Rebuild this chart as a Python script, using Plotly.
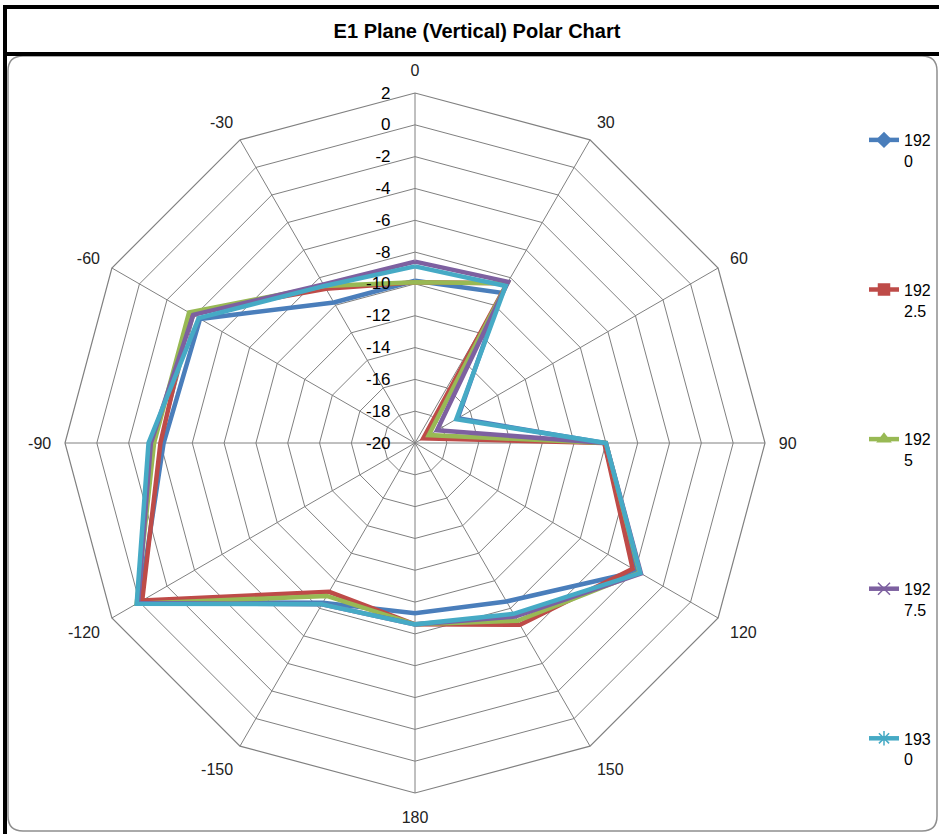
import plotly.graph_objects as go

W, H = 939, 834

angles = ["0", "30", "60", "90", "120", "150", "180", "-150", "-120", "-90", "-60", "-30"]
series_names = ["192<br>0", "192<br>2.5", "192<br>5", "192<br>7.5", "193<br>0"]
v1920 = [-9.8, -9.1, -16.9, -8.1, -3.85, -8.5, -9.3, -8.4, 0.0, -4.2, -4.4, -9.8]
v1922_5 = [-9.9, -8.4, -19.4, -8.1, -4.2, -6.8, -8.6, -9.2, -0.2, -4.0, -3.7, -8.8]
v1925 = [-9.9, -8.4, -19.0, -8.0, -3.7, -7.1, -8.6, -8.9, 0.2, -3.6, -3.6, -8.6]
v1927_5 = [-8.6, -8.3, -18.4, -8.0, -3.6, -7.4, -8.6, -8.3, 0.1, -3.4, -3.9, -8.5]
v1930 = [-8.9, -8.6, -17.0, -8.0, -3.65, -7.6, -8.6, -8.3, 0.2, -3.25, -4.3, -8.6]
radial_ticks = [-20, -18, -16, -14, -12, -10, -8, -6, -4, -2, 0, 2]
radial_labels = ["-20", "-18", "-16", "-14", "-12", "-10", "-8", "-6", "-4", "-2", "0", "2"]

colors = ["#4A7EBB", "#BE4B48", "#98B954", "#7D60A0", "#46AAC5"]
symbols = ["diamond", "square", "triangle-up", "x-thin", "asterisk"]
values = [v1920, v1922_5, v1925, v1927_5, v1930]

fig = go.Figure()
for i, (name, vals) in enumerate(zip(series_names, values)):
    fig.add_trace(go.Scatterpolar(
        r=vals + vals[:1], theta=angles + angles[:1], mode="lines+markers",
        name=name, legendgroup=str(i), cliponaxis=False,
        line=dict(color=colors[i], width=4.5),
        marker=dict(symbol=symbols[i], size=11 if i < 3 else 12, color=colors[i],
                    opacity=1, line=dict(color=colors[i], width=1.5)),
    ))

def px(x):
    return x / W

def py(y):
    return 1 - y / H

cx, cy, R = 415, 443, 350
L, T, Rr, B, rad = 8, 56, 937, 831, 15
path = (f"M {px(L+rad)},{py(T)} L {px(Rr-rad)},{py(T)} Q {px(Rr)},{py(T)} {px(Rr)},{py(T+rad)} "
        f"L {px(Rr)},{py(B-rad)} Q {px(Rr)},{py(B)} {px(Rr-rad)},{py(B)} "
        f"L {px(L+rad)},{py(B)} Q {px(L)},{py(B)} {px(L)},{py(B-rad)} "
        f"L {px(L)},{py(T+rad)} Q {px(L)},{py(T)} {px(L+rad)},{py(T)} Z")

shapes = [
    dict(type="path", xref="paper", yref="paper", path=path,
         line=dict(color="#8E8E8E", width=1.5), layer="below"),
    dict(type="line", xref="paper", yref="paper", x0=px(5), x1=px(5), y0=py(5), y1=py(834),
         line=dict(color="black", width=4)),
    dict(type="line", xref="paper", yref="paper", x0=px(3), x1=px(939), y0=py(7), y1=py(7),
         line=dict(color="black", width=4)),
    dict(type="line", xref="paper", yref="paper", x0=px(3), x1=px(939), y0=py(54), y1=py(54),
         line=dict(color="black", width=4)),
]

fig.update_layout(
    width=W, height=H,
    margin=dict(l=0, r=0, t=0, b=0),
    paper_bgcolor="white",
    font=dict(family="Liberation Sans Narrow, Liberation Sans, Arial", color="black"),
    title=dict(text="<b>E1 Plane (Vertical) Polar Chart</b>", x=477 / W, xanchor="center",
               y=py(31), yanchor="middle",
               font=dict(family="Liberation Sans, Arial", size=20, color="black")),
    polar=dict(
        domain=dict(x=[px(cx - R), px(cx + R)], y=[py(cy + R), py(cy - R)]),
        bgcolor="white",
        gridshape="linear",
        angularaxis=dict(type="category", direction="clockwise", rotation=90,
                         categoryarray=angles, categoryorder="array",
                         showline=True, linecolor="#808080", linewidth=1.2,
                         gridcolor="#808080", gridwidth=1.2,
                         ticks="outside", ticklen=10, tickcolor="rgba(0,0,0,0)",
                         tickfont=dict(size=16, color="#222222")),
        radialaxis=dict(range=[-20, 2], tickvals=radial_ticks, ticktext=radial_labels,
                        angle=90, tickangle=90,
                        showline=False, gridcolor="#808080", gridwidth=1.2,
                        ticks="outside", ticklen=18, tickcolor="rgba(0,0,0,0)",
                        side="counterclockwise",
                        tickfont=dict(family="Liberation Sans, Arial", size=17, color="black")),
    ),
    legend=dict(x=px(864), y=py(123), xanchor="left", yanchor="top",
                tracegroupgap=105, valign="top", bgcolor="rgba(0,0,0,0)",
                font=dict(size=16, color="black"), itemwidth=30),
    shapes=shapes,
    showlegend=True,
)

fig.write_html("out.html", config={"displayModeBar": False},
               post_script="document.body.style.margin='0px';document.body.style.overflow='hidden';")
